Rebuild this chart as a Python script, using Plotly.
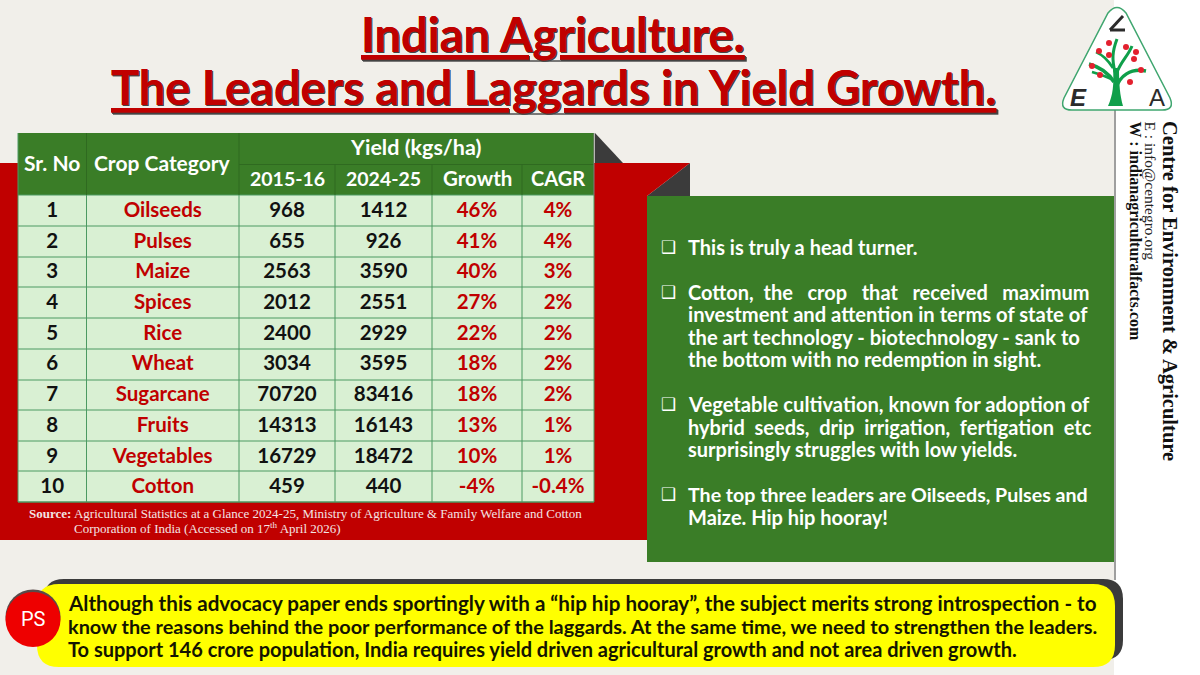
import plotly.graph_objects as go

# table data
sr_no = [1, 2, 3, 4, 5, 6, 7, 8, 9, 10]
crops = ["Oilseeds", "Pulses", "Maize", "Spices", "Rice", "Wheat", "Sugarcane", "Fruits", "Vegetables", "Cotton"]
yield_2015 = [968, 655, 2563, 2012, 2400, 3034, 70720, 14313, 16729, 459]
yield_2024 = [1412, 926, 3590, 2551, 2929, 3595, 83416, 16143, 18472, 440]
growth = ["46%", "41%", "40%", "27%", "22%", "18%", "18%", "13%", "10%", "-4%"]
cagr = ["4%", "4%", "3%", "2%", "2%", "2%", "2%", "1%", "1%", "-0.4%"]

# \u00a0 pads the justified lines of the original
note_lines = [
    "This is truly a head turner.",
    "Cotton,\u00a0\u00a0the\u00a0\u00a0\u00a0crop\u00a0\u00a0\u00a0that\u00a0\u00a0\u00a0received\u00a0\u00a0\u00a0maximum",
    "investment and attention in terms of state of",
    "the art technology - biotechnology - sank to",
    "the bottom with no redemption in sight.",
    "Vegetable cultivation, known for adoption of",
    "hybrid\u00a0 seeds,\u00a0 drip\u00a0 irrigation,\u00a0 fertigation\u00a0 etc",
    "surprisingly struggles with low yields.",
    "The top three leaders are Oilseeds, Pulses and",
    "Maize. Hip hip hooray!",
]
ps_lines = [
    "Although this advocacy paper ends sportingly with a \u201chip hip hooray\u201d, the subject merits strong introspection - to",
    "know the reasons behind the poor performance of the laggards. At the same time, we need to strengthen the leaders.",
    "To support 146 crore population, India requires yield driven agricultural growth and not area driven growth.",
]

note_y = [247, 292, 314, 337, 359, 404, 427, 449, 494, 517]
note_size = [20, 20, 20.2, 20.2, 20, 20.2, 20, 20, 19.6, 20]
bullet_rows = [0, 1, 5, 8]
ps_y = [603, 626, 649]
ps_size = [20.6, 19.9, 20]

GREEN = "#3A7D27"
GRID = "#4C9A62"
RED = "#C00000"
FONT = "Lato"

col_edges = [18, 86.5, 239, 335, 432, 522, 594]
col_mid = [(a + b) / 2 for a, b in zip(col_edges, col_edges[1:])]


def rect(x0, y0, x1, y1, color):
    return dict(type="rect", xref="x", yref="y", x0=x0, y0=y0, x1=x1, y1=y1, fillcolor=color, line_width=0, layer="below")


def seg(x0, y0, x1, y1, color=GRID, width=1):
    return dict(type="line", xref="x", yref="y", x0=x0, y0=y0, x1=x1, y1=y1,
                line=dict(color=color, width=width), layer="below")


def poly(path, color, line=None, width=0):
    return dict(type="path", xref="x", yref="y", path=path, fillcolor=color,
                line=dict(color=line or color, width=width), layer="below")


def limb(path, width=3.5):
    return poly(path, "rgba(0,0,0,0)", "#0F9F4A", width)


def disc(cx, cy, r, color, layer="below"):
    return dict(type="circle", xref="x", yref="y", x0=cx - r, y0=cy - r, x1=cx + r, y1=cy + r,
                fillcolor=color, line_width=0, layer=layer)


def rounded(x0, y0, x1, y1, r):
    return (f"M{x0 + r},{y0} L{x1 - r},{y0} Q{x1},{y0} {x1},{y0 + r} L{x1},{y1 - r} Q{x1},{y1} {x1 - r},{y1} "
            f"L{x0 + r},{y1} Q{x0},{y1} {x0},{y1 - r} L{x0},{y0 + r} Q{x0},{y0} {x0 + r},{y0} Z")


def note(x, y, text, size, color="black", family=FONT, weight=700, xanchor="left", **kw):
    return dict(xref="x", yref="y", x=x, y=y, text=text, showarrow=False, xanchor=xanchor,
                yanchor=kw.pop("yanchor", "middle"),
                font=dict(size=size, color=color, family=family, weight=weight, **kw.pop("font", {})), **kw)


shapes = [
    rect(0, 0, 1114, 675, "#F1EFEA"),
    seg(1115, 110, 1115, 580, "#7f7f7f", 1.5),
    # red ribbon and its folds
    poly("M595,133 L623,163 L595,163 Z", "#3B3B3B"),
    poly("M690,163 L690,196 L647,196 Z", "#3B3B3B"),
    poly("M0,163 L690,163 L647,196 L647,540 L0,540 Z", "#C00000"),
    rect(647, 196, 1114, 562, GREEN),
    # table body and header
    rect(18, 195, 594, 502, "#D9F0D3"),
    rect(18, 133, 594, 195, GREEN),
    seg(239, 164.5, 594, 164.5, "#2F6A20"),
    seg(18, 195, 594, 195, GRID),
    seg(18, 502, 594, 502, GRID, 1.5),
    seg(594, 133, 594, 195, "#7f7f7f", 1),
    seg(594, 195, 594, 502, GRID),
    seg(18, 133, 18, 502, GRID),
    # bottom note
    poly(rounded(44, 579, 1123, 660, 20), "#3B3B3B"),
    poly(rounded(37, 584, 1115, 667, 22), "#FFFF00"),
    disc(33, 617, 27.5, "#5A4A4A"),
    disc(33, 619.5, 27.5, "#EE0000"),
    # logo
    poly("M1108,13 Q1117,2 1126,13 L1170,98 Q1175,110 1162,110 L1072,110 Q1059,110 1064,98 Z",
         "white", "#3FA66F", 1.5),
    poly("M1108,106 C1113,95 1114,85 1113,68 L1119,68 C1119,85 1120,95 1123,106 Z", "#0F9F4A"),
    limb("M1116,88 C1120,76 1130,68 1146,71"),
    limb("M1114,82 C1108,72 1100,67 1089,64"),
    limb("M1113,80 C1106,76 1099,74 1092,72", 2.5),
    limb("M1115,72 C1112,60 1112,52 1117,39", 3),
    limb("M1117,72 C1122,60 1128,56 1132,46", 3),
    limb("M1113,68 C1108,60 1103,55 1096,52", 2.5),
    seg(1123, 16, 1110, 30, "#2B2B2B", 3),
    seg(1110, 30, 1125, 30, "#2B2B2B", 3),
]
# table rows and columns
for y in [226, 257, 287, 318, 349, 380, 410, 441, 471]:
    shapes.append(seg(18, y, 594, y))
for x in col_edges[1:-1]:
    shapes.append(seg(x, 195, x, 502))
    y_top = 133 if x in (86.5, 239) else 164.5
    shapes.append(seg(x, y_top, x, 195, "#2F6A20"))
# apples on the tree
for cx, cy in [(1109, 43), (1099, 51), (1126, 47), (1136, 52), (1134, 59), (1109, 55),
               (1092, 66), (1100, 75), (1141, 70), (1130, 82)]:
    shapes.append(disc(cx, cy, 3, "#E3202E", "above"))

fig = go.Figure()
# keeps the pixel axes alive for the shapes and annotations
fig.add_trace(go.Scatter(x=[0], y=[0], mode="none", hoverinfo="skip", showlegend=False))

columns = [
    (sr_no, "#111111"),
    (crops, RED),
    (yield_2015, "#111111"),
    (yield_2024, "#111111"),
    (growth, RED),
    (cagr, RED),
]
for mid, (vals, color) in zip(col_mid, columns):
    fig.add_trace(go.Scatter(
        x=[mid] * len(sr_no),
        y=sr_no,
        yaxis="y2",
        mode="text",
        text=[str(v) for v in vals],
        textposition="middle center",
        textfont=dict(family=FONT, size=20.5, color=color, weight=700),
        hoverinfo="skip",
        showlegend=False,
    ))

title_font = dict(lineposition="under", shadow="1px 1px 0 #444444")
annotations = [
    note(553, 34, "Indian Agriculture.", 47, RED, xanchor="center", font=title_font),
    note(553, 87, "The Leaders and Laggards in Yield Growth.", 47, RED, xanchor="center", font=title_font),
    note(col_mid[0], 162, "Sr. No", 21, "white", xanchor="center"),
    note(col_mid[1], 162, "Crop Category", 21, "white", xanchor="center"),
    note(416, 147, "Yield (kgs/ha)", 21.5, "white", xanchor="center"),
    note(col_mid[2], 178, "2015-16", 19.5, "white", xanchor="center"),
    note(col_mid[3], 178, "2024-25", 19.5, "white", xanchor="center"),
    note(col_mid[4], 178, "Growth", 20.5, "white", xanchor="center"),
    note(col_mid[5], 178, "CAGR", 20, "white", xanchor="center"),
    note(27, 513, "<b>Source:</b> Agricultural Statistics at a Glance 2024-25, Ministry of Agriculture &amp; Family Welfare and Cotton",
         13, "#F3E4E4", "Liberation Serif", 400),
    note(72, 528, "Corporation of India (Accessed on 17<sup>th</sup> April 2026)", 13, "#F3E4E4", "Liberation Serif", 400),
    note(33, 619, "PS", 20, "white", "Roboto", 400, xanchor="center"),
    note(1078, 97, "E", 24, "#2B2B2B", "Liberation Sans", 700, xanchor="center", font=dict(style="italic")),
    note(1157, 97, "A", 24, "#2B2B2B", "Liberation Sans", 400, xanchor="center"),
    note(1170, 119, "Centre for Environment &amp; Agriculture", 20.5, "#111111", "Liberation Serif", 700,
         xanchor="center", yanchor="top", textangle=90),
    note(1150, 119, "E : info@centegro.org", 15.5, "#222222", "Liberation Serif", 400,
         xanchor="center", yanchor="top", textangle=90),
    note(1135, 119, "W : indianagriculturalfacts.com", 16, "#111111", "Liberation Serif", 700,
         xanchor="center", yanchor="top", textangle=90),
]
for i, line in enumerate(note_lines):
    annotations.append(note(686, note_y[i], line, note_size[i], "white"))
    if i in bullet_rows:
        annotations.append(note(668, note_y[i], "\u2751", 17, "white", "DejaVu Sans", 700, xanchor="center"))
for i, line in enumerate(ps_lines):
    annotations.append(note(66, ps_y[i], line, ps_size[i], "#141400"))

fig.update_layout(
    width=1200,
    height=675,
    margin=dict(l=0, r=0, t=0, b=0),
    paper_bgcolor="white",
    plot_bgcolor="rgba(0,0,0,0)",
    showlegend=False,
    xaxis=dict(range=[0, 1200], visible=False, fixedrange=True),
    yaxis=dict(range=[675, 0], visible=False, fixedrange=True),
    # row numbers map onto the table body
    yaxis2=dict(domain=[(675 - 503.5) / 675, (675 - 196.5) / 675], range=[10.5, 0.5], visible=False,
                anchor="x", fixedrange=True),
    shapes=shapes,
    annotations=annotations,
)

fig.write_html("out.html", config={"displayModeBar": False},
               post_script="document.body.style.margin='0';document.body.style.overflow='hidden';")
